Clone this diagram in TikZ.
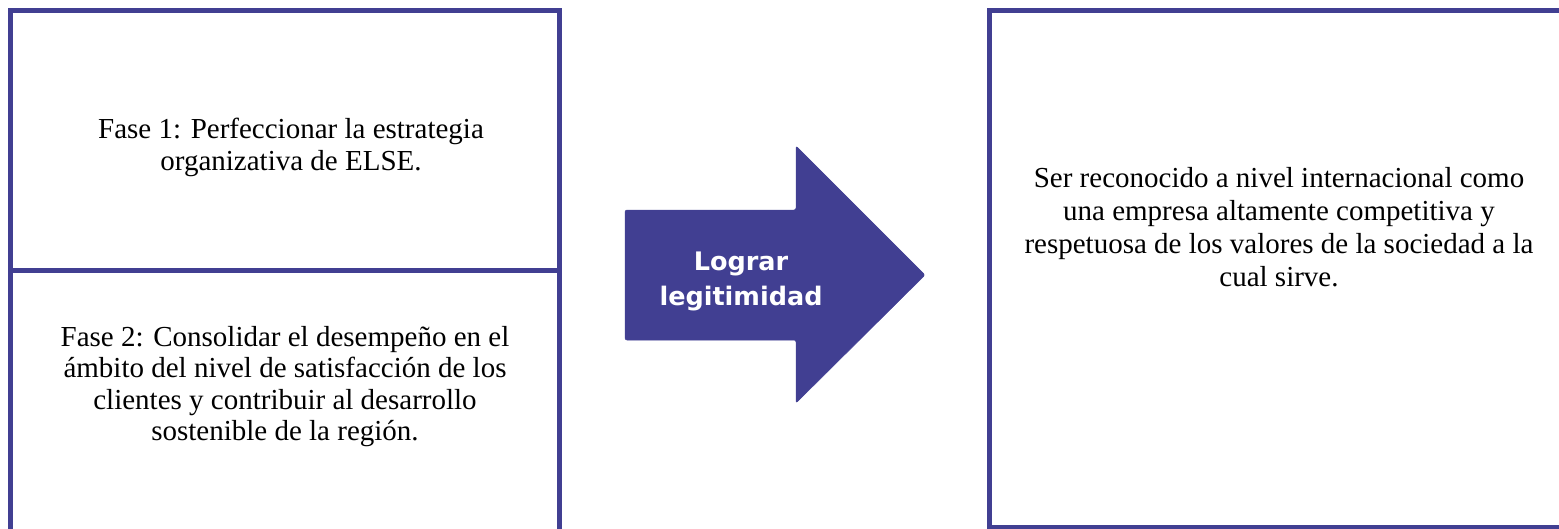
\documentclass[tikz,border=0pt]{standalone}
\usepackage{fontspec}
\setmainfont{Liberation Serif}
\newfontfamily\arrowfont{DejaVu Sans}
\definecolor{frame}{RGB}{65,63,146}
\begin{document}
\begin{tikzpicture}[x=1pt,y=-1pt,
  panel/.style={draw=frame, line width=5pt, inner sep=0pt, outer sep=0pt, rectangle},
  bodytext/.style={align=center, inner sep=0pt, font=\fontsize{29}{32}\selectfont, text=black},
  arrowshape/.style={fill=frame, draw=frame, line width=0.5pt, rounded corners=2pt},
  arrowtext/.style={align=center, inner sep=0pt, text=white, font=\arrowfont\bfseries\fontsize{25.5}{35}\selectfont}]
\useasboundingbox (0,0) rectangle (1559,528);
\clip (0,0) rectangle (1559,528);
% panels
\node[panel, minimum width=549pt, minimum height=259.5pt] (fase1box) at (285,140.25) {};
\node[panel, minimum width=549pt, minimum height=265pt] (fase2box) at (285,402.5) {};
\node[panel, minimum width=580pt, minimum height=516.5pt] (goalbox) at (1279,268.75) {};
% texts
\node[bodytext] (fase1) at (291,147.3) {Fase 1: Perfeccionar la estrategia\\organizativa de ELSE.};
\node[bodytext, font=\fontsize{29}{31.3}\selectfont] (fase2) at (285,386.5) {Fase 2: Consolidar el desempeño en el\\ámbito del nivel de satisfacción de los\\clientes y contribuir al desarrollo\\sostenible de la región.};
\node[bodytext, font=\fontsize{29}{33}\selectfont] (goal) at (1279,227.5) {Ser reconocido a nivel internacional como\\una empresa altamente competitiva y\\respetuosa de los valores de la sociedad a la\\cual sirve.};
% arrow
\coordinate (a1) at (625,210);
\coordinate (a2) at (796,210);
\coordinate (a3) at (796,146);
\coordinate (tip) at (925,275);
\coordinate (a5) at (796,403);
\coordinate (a6) at (796,340);
\coordinate (a7) at (625,340);
\draw[arrowshape] (a1) -- (a2) -- (a3) -- (tip) -- (a5) -- (a6) -- (a7) -- cycle;
\node[arrowtext] (lbl) at (741,281) {Lograr\\legitimidad};
\end{tikzpicture}
\end{document}
